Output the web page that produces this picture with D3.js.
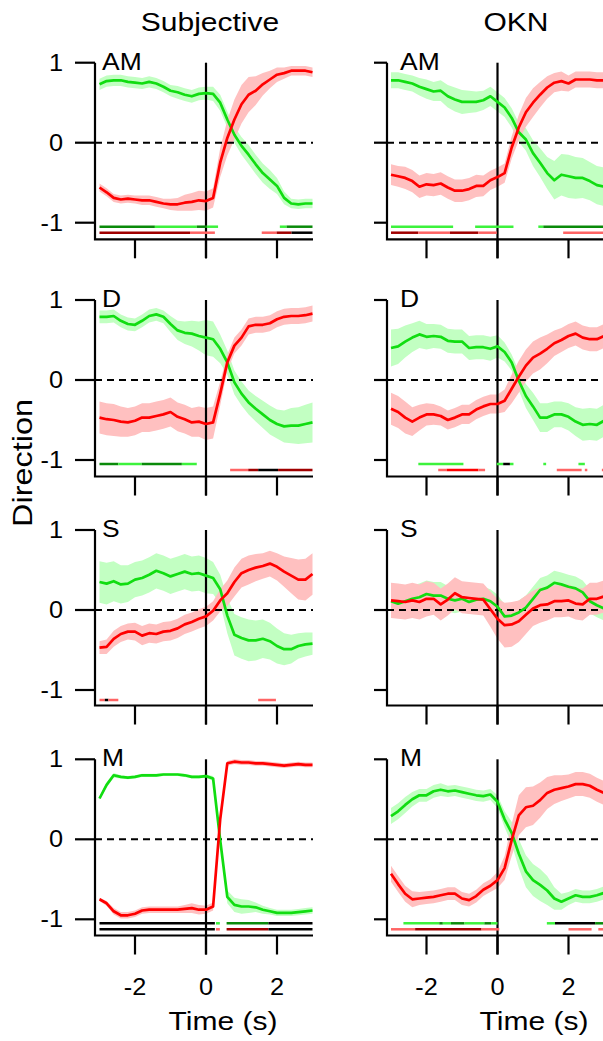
<!DOCTYPE html>
<html>
<head>
<meta charset="utf-8">
<script src="https://cdn.jsdelivr.net/npm/d3@7"></script>
<style>
body { margin: 0; background: #fff; }
svg { display: block; }
text { font-family: "Liberation Sans", Arial, sans-serif; fill: #000; }
</style>
</head>
<body>
<script>
// time grid (s)
var times = [-3,-2.8,-2.6,-2.4,-2.2,-2,-1.8,-1.6,-1.4,-1.2,-1,-0.8,-0.6,-0.4,-0.2,0,0.2,0.4,0.6,0.8,1,1.2,1.4,1.6,1.8,2,2.2,2.4,2.6,2.8,3];
var xTicks = [-2, 0, 2];
var yTicks = [1, 0, -1];
var columnTitles = ['Subjective', 'OKN'];
var rowLabels = ['AM', 'D', 'S', 'M'];

// AM
var amSubjGreen = [0.73,0.77,0.78,0.78,0.76,0.75,0.74,0.76,0.74,0.70,0.65,0.63,0.60,0.58,0.61,0.62,0.61,0.50,0.29,0.10,-0.04,-0.15,-0.27,-0.38,-0.46,-0.54,-0.69,-0.76,-0.77,-0.76,-0.76];
var amSubjGreenErr = [0.07,0.07,0.07,0.07,0.07,0.07,0.07,0.07,0.07,0.07,0.07,0.08,0.08,0.08,0.08,0.08,0.09,0.10,0.10,0.10,0.11,0.12,0.12,0.12,0.12,0.10,0.08,0.06,0.06,0.06,0.06];
var amSubjRed = [-0.56,-0.62,-0.69,-0.71,-0.70,-0.71,-0.72,-0.72,-0.74,-0.76,-0.77,-0.77,-0.75,-0.74,-0.72,-0.73,-0.69,-0.25,0.06,0.29,0.48,0.60,0.65,0.73,0.79,0.85,0.87,0.90,0.90,0.90,0.88];
var amSubjRedErr = [0.05,0.05,0.05,0.05,0.05,0.05,0.06,0.06,0.06,0.06,0.07,0.08,0.10,0.11,0.12,0.12,0.12,0.18,0.22,0.25,0.24,0.22,0.18,0.14,0.11,0.09,0.07,0.06,0.06,0.06,0.06];
var amOknGreen = [0.78,0.78,0.76,0.74,0.70,0.67,0.64,0.65,0.58,0.54,0.51,0.51,0.51,0.53,0.58,0.51,0.44,0.31,0.13,0.04,-0.13,-0.25,-0.38,-0.47,-0.40,-0.42,-0.44,-0.44,-0.48,-0.53,-0.55];
var amOknGreenErr = [0.10,0.10,0.10,0.10,0.11,0.12,0.12,0.13,0.14,0.15,0.15,0.14,0.13,0.12,0.12,0.12,0.12,0.12,0.12,0.14,0.16,0.18,0.20,0.24,0.26,0.27,0.26,0.25,0.24,0.24,0.24];
var amOknRed = [-0.40,-0.42,-0.44,-0.48,-0.55,-0.52,-0.53,-0.51,-0.56,-0.60,-0.60,-0.58,-0.54,-0.54,-0.47,-0.43,-0.38,-0.06,0.19,0.38,0.50,0.60,0.69,0.75,0.77,0.74,0.79,0.79,0.79,0.78,0.78];
var amOknRedErr = [0.13,0.13,0.14,0.14,0.14,0.14,0.14,0.14,0.14,0.14,0.14,0.14,0.14,0.13,0.12,0.12,0.12,0.14,0.16,0.18,0.18,0.16,0.14,0.12,0.12,0.10,0.10,0.10,0.10,0.10,0.10];

// D
var dSubjGreen = [0.79,0.79,0.80,0.74,0.70,0.69,0.74,0.80,0.82,0.79,0.70,0.62,0.59,0.58,0.55,0.53,0.51,0.39,0.22,-0.03,-0.17,-0.28,-0.36,-0.43,-0.50,-0.55,-0.58,-0.57,-0.57,-0.55,-0.53];
var dSubjGreenErr = [0.08,0.08,0.08,0.08,0.08,0.08,0.08,0.08,0.08,0.08,0.10,0.12,0.14,0.16,0.18,0.22,0.22,0.18,0.15,0.15,0.15,0.15,0.16,0.17,0.18,0.18,0.20,0.22,0.23,0.24,0.25];
var dSubjRed = [-0.47,-0.49,-0.50,-0.52,-0.53,-0.51,-0.47,-0.47,-0.45,-0.43,-0.40,-0.46,-0.49,-0.53,-0.52,-0.55,-0.53,-0.17,0.22,0.43,0.53,0.67,0.69,0.69,0.71,0.76,0.79,0.80,0.80,0.81,0.83];
var dSubjRedErr = [0.20,0.20,0.20,0.19,0.18,0.18,0.18,0.18,0.18,0.18,0.18,0.18,0.18,0.18,0.19,0.20,0.20,0.15,0.10,0.10,0.10,0.10,0.10,0.10,0.10,0.10,0.10,0.10,0.10,0.10,0.10];
var dOknGreen = [0.40,0.42,0.48,0.53,0.57,0.54,0.55,0.54,0.49,0.48,0.48,0.40,0.41,0.41,0.39,0.42,0.35,0.22,-0.01,-0.20,-0.33,-0.47,-0.47,-0.43,-0.43,-0.46,-0.52,-0.56,-0.55,-0.56,-0.51];
var dOknGreenErr = [0.23,0.22,0.20,0.18,0.17,0.16,0.15,0.15,0.15,0.15,0.15,0.15,0.15,0.15,0.15,0.14,0.12,0.10,0.12,0.15,0.17,0.18,0.18,0.16,0.16,0.17,0.18,0.20,0.20,0.20,0.20];
var dOknRed = [-0.36,-0.40,-0.47,-0.52,-0.47,-0.43,-0.43,-0.45,-0.50,-0.47,-0.43,-0.43,-0.37,-0.33,-0.30,-0.30,-0.26,-0.11,0.04,0.18,0.28,0.33,0.39,0.46,0.50,0.55,0.58,0.53,0.51,0.51,0.55];
var dOknRedErr = [0.20,0.20,0.20,0.18,0.16,0.14,0.13,0.12,0.12,0.12,0.12,0.12,0.12,0.12,0.12,0.12,0.14,0.18,0.20,0.20,0.20,0.20,0.18,0.16,0.15,0.15,0.15,0.15,0.15,0.15,0.15];

// S
var sSubjGreen = [0.35,0.33,0.36,0.32,0.33,0.38,0.40,0.44,0.49,0.46,0.42,0.45,0.48,0.45,0.46,0.43,0.40,0.26,-0.07,-0.31,-0.35,-0.38,-0.38,-0.36,-0.39,-0.45,-0.49,-0.49,-0.45,-0.43,-0.42];
var sSubjGreenErr = [0.26,0.26,0.25,0.24,0.23,0.22,0.22,0.22,0.22,0.22,0.22,0.22,0.22,0.22,0.22,0.22,0.20,0.18,0.22,0.26,0.26,0.26,0.25,0.24,0.23,0.22,0.20,0.18,0.16,0.15,0.14];
var sSubjRed = [-0.47,-0.46,-0.36,-0.30,-0.27,-0.27,-0.32,-0.29,-0.30,-0.27,-0.26,-0.23,-0.18,-0.15,-0.11,-0.08,-0.01,0.12,0.21,0.35,0.46,0.50,0.53,0.55,0.58,0.54,0.48,0.43,0.38,0.38,0.45];
var sSubjRedErr = [0.08,0.09,0.10,0.10,0.10,0.11,0.12,0.12,0.12,0.12,0.12,0.12,0.12,0.12,0.12,0.12,0.12,0.14,0.16,0.18,0.18,0.18,0.17,0.16,0.16,0.17,0.19,0.22,0.25,0.26,0.26];
var sOknGreen = [0.11,0.08,0.11,0.14,0.16,0.20,0.18,0.18,0.14,0.12,0.14,0.10,0.13,0.14,0.11,0.04,-0.08,-0.07,-0.03,0.03,0.14,0.25,0.28,0.34,0.32,0.29,0.27,0.22,0.11,0.06,0.02];
var sOknGreenErr = [0.18,0.18,0.17,0.17,0.17,0.17,0.17,0.17,0.16,0.16,0.16,0.15,0.15,0.15,0.15,0.15,0.15,0.15,0.15,0.15,0.15,0.15,0.15,0.15,0.15,0.15,0.15,0.15,0.15,0.15,0.15];
var sOknRed = [0.12,0.11,0.10,0.12,0.10,0.14,0.14,0.07,0.13,0.21,0.16,0.15,0.14,0.13,0.01,-0.11,-0.19,-0.18,-0.14,-0.06,0.02,0.06,0.07,0.11,0.11,0.12,0.08,0.07,0.14,0.14,0.17];
var sOknRedErr = [0.22,0.22,0.22,0.22,0.22,0.22,0.20,0.20,0.20,0.20,0.20,0.20,0.20,0.20,0.22,0.25,0.28,0.28,0.26,0.24,0.22,0.22,0.20,0.20,0.20,0.20,0.20,0.20,0.20,0.20,0.20];

// M
var mSubjGreen = [0.51,0.68,0.80,0.78,0.77,0.78,0.80,0.80,0.80,0.81,0.81,0.81,0.80,0.78,0.78,0.79,0.76,-0.01,-0.72,-0.82,-0.84,-0.84,-0.85,-0.88,-0.90,-0.92,-0.92,-0.92,-0.91,-0.90,-0.89];
var mSubjGreenErr = [0.02,0.03,0.03,0.02,0.02,0.02,0.02,0.02,0.02,0.02,0.02,0.02,0.02,0.02,0.02,0.02,0.03,0.05,0.08,0.09,0.09,0.08,0.06,0.05,0.04,0.04,0.04,0.04,0.04,0.04,0.04];
var mSubjRed = [-0.75,-0.80,-0.90,-0.95,-0.95,-0.93,-0.89,-0.88,-0.88,-0.88,-0.88,-0.88,-0.87,-0.86,-0.88,-0.88,-0.84,0.25,0.95,0.97,0.96,0.96,0.95,0.95,0.94,0.93,0.92,0.93,0.94,0.93,0.93];
var mSubjRedErr = [0.02,0.03,0.04,0.04,0.04,0.04,0.04,0.04,0.04,0.04,0.04,0.04,0.05,0.06,0.06,0.05,0.05,0.05,0.03,0.03,0.03,0.03,0.03,0.03,0.03,0.03,0.03,0.03,0.03,0.03,0.03];
var mOknGreen = [0.29,0.35,0.43,0.50,0.55,0.55,0.60,0.62,0.60,0.61,0.59,0.57,0.55,0.54,0.56,0.47,0.25,0.08,-0.18,-0.40,-0.51,-0.57,-0.64,-0.74,-0.78,-0.74,-0.70,-0.72,-0.72,-0.70,-0.67];
var mOknGreenErr = [0.10,0.10,0.10,0.09,0.08,0.08,0.08,0.08,0.07,0.07,0.07,0.07,0.07,0.07,0.07,0.08,0.10,0.14,0.18,0.20,0.20,0.20,0.18,0.14,0.10,0.08,0.08,0.08,0.08,0.08,0.08];
var mOknRed = [-0.43,-0.56,-0.68,-0.75,-0.74,-0.73,-0.72,-0.70,-0.68,-0.68,-0.74,-0.76,-0.71,-0.63,-0.58,-0.51,-0.36,-0.01,0.30,0.40,0.42,0.49,0.58,0.62,0.64,0.66,0.69,0.69,0.67,0.62,0.58];
var mOknRedErr = [0.10,0.10,0.10,0.10,0.08,0.08,0.08,0.08,0.08,0.08,0.08,0.08,0.08,0.08,0.08,0.10,0.15,0.20,0.25,0.25,0.24,0.22,0.20,0.18,0.16,0.15,0.15,0.15,0.15,0.15,0.15];

// significance bars: [from, to, level] level 1 light, 2 full, 3 dark, 4 black
var amSubjGreenSig = [[-3,-1.44,3],[-1.44,-0.26,1],[-0.26,0.02,3],[0.02,0.34,1],[2.08,2.27,1],[2.27,3,3]];
var amSubjRedSig = [[-3,-0.45,3],[-0.45,0.25,1],[1.57,1.99,1],[1.99,2.41,3],[2.41,3,4]];
var amOknGreenSig = [[-3,-1.25,1],[-0.63,0.45,1],[1.15,1.29,1],[1.29,3,3]];
var amOknRedSig = [[-3,-2.23,3],[-2.23,-1.34,1],[-1.34,-0.54,3],[-0.54,-0.02,1],[1.85,3,1]];
var dSubjGreenSig = [[-3,-2.47,3],[-2.47,-1.81,1],[-1.81,-0.68,3],[-0.68,-0.26,1]];
var dSubjRedSig = [[0.68,1.19,1],[1.19,1.47,3],[1.47,2.03,4],[2.03,3,3]];
var dOknGreenSig = [[-2.23,-0.96,1],[-0.02,0.16,1],[0.16,0.35,4],[0.35,0.45,1],[1.29,1.37,1],[2.28,2.46,1]];
var dOknRedSig = [[-1.67,-1.43,1],[-1.43,-0.54,2],[-0.54,-0.35,1],[1.67,2.37,1],[2.46,2.53,1],[2.94,3,1]];
var sSubjGreenSig = [];
var sSubjRedSig = [[-3,-2.85,1],[-2.85,-2.75,4],[-2.75,-2.47,1],[1.47,1.97,1]];
var sOknGreenSig = [];
var sOknRedSig = [];
var mSubjGreenSig = [[-3,0.25,4],[0.28,0.39,1],[0.58,1.76,3],[1.76,3,4]];
var mSubjRedSig = [[-3,0.25,4],[0.28,0.39,1],[0.58,1.76,3],[1.76,3,4]];
var mOknGreenSig = [[-2.65,-1.64,1],[-1.64,-1.54,3],[-1.54,-1.31,1],[-1.31,-0.93,3],[-0.93,-0.37,1],[-0.37,-0.18,3],[-0.18,0,1],[1.39,1.62,1],[1.62,2.75,4],[2.75,3,3]];
var mOknRedSig = [[-3,-2.32,1],[-2.32,-0.45,3],[-0.45,0.05,1],[2.0,2.65,1],[2.84,3,1]];

var panels = [
    {row:0, col:0, g:amSubjGreen, ge:amSubjGreenErr, r:amSubjRed, re:amSubjRedErr, gs:amSubjGreenSig, rs:amSubjRedSig},
    {row:0, col:1, g:amOknGreen, ge:amOknGreenErr, r:amOknRed, re:amOknRedErr, gs:amOknGreenSig, rs:amOknRedSig},
    {row:1, col:0, g:dSubjGreen, ge:dSubjGreenErr, r:dSubjRed, re:dSubjRedErr, gs:dSubjGreenSig, rs:dSubjRedSig},
    {row:1, col:1, g:dOknGreen, ge:dOknGreenErr, r:dOknRed, re:dOknRedErr, gs:dOknGreenSig, rs:dOknRedSig},
    {row:2, col:0, g:sSubjGreen, ge:sSubjGreenErr, r:sSubjRed, re:sSubjRedErr, gs:sSubjGreenSig, rs:sSubjRedSig},
    {row:2, col:1, g:sOknGreen, ge:sOknGreenErr, r:sOknRed, re:sOknRedErr, gs:sOknGreenSig, rs:sOknRedSig},
    {row:3, col:0, g:mSubjGreen, ge:mSubjGreenErr, r:mSubjRed, re:mSubjRedErr, gs:mSubjGreenSig, rs:mSubjRedSig},
    {row:3, col:1, g:mOknGreen, ge:mOknGreenErr, r:mOknRed, re:mOknRedErr, gs:mOknGreenSig, rs:mOknRedSig}
];

// layout
var cols = [
    {axisX:95, tick0:75, range:[99.5,312.5], xEnd:313, titleX:210, labelX:102, timeX:223},
    {axisX:387, tick0:374, range:[391,604], xEnd:604, titleX:516, labelX:400, timeX:534}
];
var rows = [
    {top:62.7, bottom:222.7, axisY:239.3},
    {top:300, bottom:460, axisY:476.5},
    {top:530, bottom:690, axisY:705.5},
    {top:759.3, bottom:919.3, axisY:935.5}
];
var greenLevel = {1:'#3cf23c', 2:'#00c800', 3:'#0a8a0a', 4:'#000'};
var redLevel = {1:'#ff6464', 2:'#ff0000', 3:'#a00000', 4:'#000'};

var svg = d3.select('body').append('svg')
    .attr('width', 603)
    .attr('height', 1041);

function label(sel, x, y, str, size, sx, anchor) {
    return sel.append('text')
	.attr('transform', 'translate(' + x + ',' + y + ') scale(' + sx + ',1)')
	.attr('text-anchor', anchor)
	.style('font-size', size + 'px')
	.text(str);
}

columnTitles.forEach(function(t, i) {
    label(svg, cols[i].titleX, 31, t, 25, 1.2, 'middle');
});

svg.append('text')
    .attr('transform', 'translate(32,463) rotate(-90) scale(1.2,1)')
    .attr('text-anchor', 'middle')
    .style('font-size', '27px')
    .text('Direction');

panels.forEach(function(p) {
    var c = cols[p.col], rw = rows[p.row];
    var x = d3.scaleLinear().domain([-3, 3]).range(c.range);
    var y = d3.scaleLinear().domain([-1, 1]).range([rw.bottom, rw.top]);
    var g = svg.append('g').classed('panel', true);

    var band = function(vals, errs) {
	return d3.area()
	    .x(function(d, i) { return x(times[i]); })
	    .y0(function(d, i) { return y(vals[i] - errs[i]); })
	    .y1(function(d, i) { return y(vals[i] + errs[i]); })(vals);
    };
    var line = d3.line()
	.x(function(d, i) { return x(times[i]); })
	.y(function(d) { return y(d); });

    g.append('path').attr('d', band(p.g, p.ge))
	.attr('fill', '#c2ffc2');
    g.append('path').attr('d', band(p.r, p.re))
	.attr('fill', '#ffc0c0');

    // dashed zero line
    g.append('line')
	.attr('x1', c.axisX).attr('x2', c.xEnd)
	.attr('y1', y(0)).attr('y2', y(0))
	.attr('stroke', '#000').attr('stroke-width', 2)
	.attr('stroke-dasharray', '7,5');

    // vertical line at time 0 (continues as the x tick)
    g.append('line')
	.attr('x1', x(0)).attr('x2', x(0))
	.attr('y1', y(1)).attr('y2', rw.axisY + 19)
	.attr('stroke', '#000').attr('stroke-width', 2.2);

    g.append('path').attr('d', line(p.g))
	.attr('fill', 'none').attr('stroke', '#11dd11').attr('stroke-width', 2.7)
	.attr('stroke-linejoin', 'round');
    g.append('path').attr('d', line(p.r))
	.attr('fill', 'none').attr('stroke', '#ff0000').attr('stroke-width', 2.7)
	.attr('stroke-linejoin', 'round');

    // significance bars
    var sig = function(list, yy, colors) {
	g.selectAll(null)
	    .data(list)
	    .enter()
	    .append('line')
	    .attr('x1', function(d) { return x(d[0]); })
	    .attr('x2', function(d) { return x(d[1]); })
	    .attr('y1', yy).attr('y2', yy)
	    .attr('stroke', function(d) { return colors[d[2]]; })
	    .attr('stroke-width', 2.5);
    };
    sig(p.gs, y(-1) + 4, greenLevel);
    sig(p.rs, y(-1) + 10, redLevel);

    // axes
    g.append('path')
	.attr('d', 'M' + c.axisX + ',' + y(1) + 'V' + rw.axisY + 'H' + c.xEnd)
	.attr('fill', 'none').attr('stroke', '#000').attr('stroke-width', 2.2);
    g.selectAll(null)
	.data(yTicks)
	.enter()
	.append('line')
	.attr('x1', c.tick0).attr('x2', c.axisX)
	.attr('y1', function(d) { return y(d); })
	.attr('y2', function(d) { return y(d); })
	.attr('stroke', '#000').attr('stroke-width', 2.2);
    g.selectAll(null)
	.data(xTicks)
	.enter()
	.append('line')
	.attr('x1', function(d) { return x(d); })
	.attr('x2', function(d) { return x(d); })
	.attr('y1', rw.axisY).attr('y2', rw.axisY + 19)
	.attr('stroke', '#000').attr('stroke-width', 2.2);

    label(g, c.labelX, y(1) + 7, rowLabels[p.row], 23, 1.15, 'start');

    if (p.col === 0) {
	yTicks.forEach(function(t) {
	    label(g, 63, y(t) + 8, String(t), 23, 1.1, 'end');
	});
    }
    if (p.row === 3) {
	xTicks.forEach(function(t) {
	    label(g, x(t), 995, String(t), 23, 1.1, 'middle');
	});
	label(g, c.timeX, 1030, 'Time (s)', 25, 1.2, 'middle');
    }
});
</script>
</body>
</html>
